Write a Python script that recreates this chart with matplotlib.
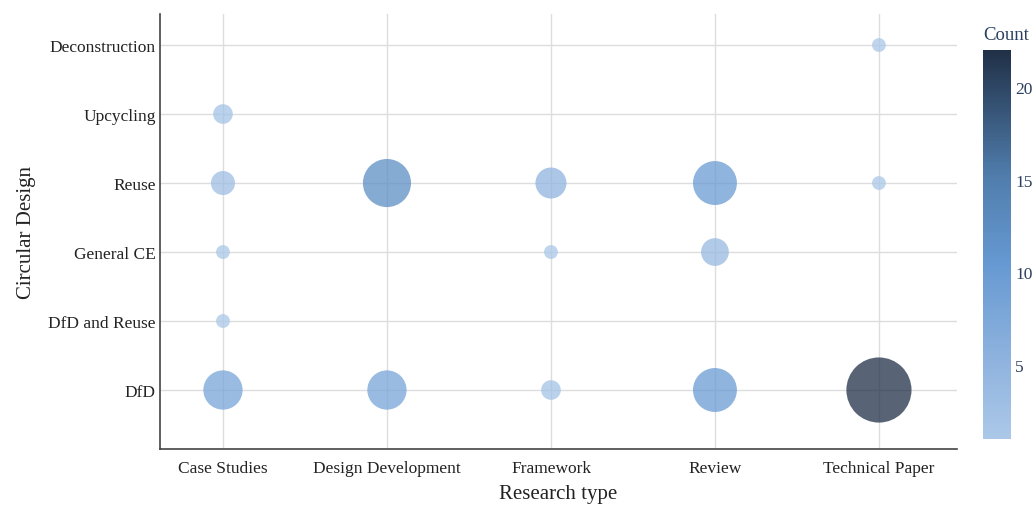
import numpy as np
import matplotlib.pyplot as plt
from matplotlib.colors import LinearSegmentedColormap, Normalize
from matplotlib.colorbar import ColorbarBase

plt.rcParams['font.family'] = ['Liberation Serif', 'DejaVu Serif']

# categories
research_types = ["Case Studies", "Design Development", "Framework", "Review", "Technical Paper"]
designs = ["DfD", "DfD and Reuse", "General CE", "Reuse", "Upcycling", "Deconstruction"]

# (research type, circular design, count)
rt = ["Case Studies", "Case Studies", "Case Studies", "Case Studies", "Case Studies",
      "Design Development", "Design Development",
      "Framework", "Framework", "Framework",
      "Review", "Review", "Review",
      "Technical Paper", "Technical Paper", "Technical Paper"]
cd = ["Upcycling", "Reuse", "General CE", "DfD and Reuse", "DfD",
      "Reuse", "DfD",
      "Reuse", "General CE", "DfD",
      "Reuse", "General CE", "DfD",
      "Deconstruction", "Reuse", "DfD"]
count = [2, 3, 1, 1, 8,
         12, 8,
         5, 1, 2,
         10, 4, 10,
         1, 1, 22]

cmap = LinearSegmentedColormap.from_list(
    "count_blues",
    [(0.0, "#abc8e8"), (0.2, "#8fb3de"), (0.45, "#6699d2"),
     (0.68, "#4f7cab"), (1.0, "#203047")])
norm = Normalize(vmin=1, vmax=22)

W, H = 1034, 506
fig = plt.figure(figsize=(W / 100, H / 100), dpi=100)
ax = fig.add_axes([160 / W, 1 - 450 / H, (957 - 160) / W, (450 - 15) / H])

xi = [research_types.index(r) for r in rt]
yi = [designs.index(c) for c in cd]
cnt = np.array(count)

ax.scatter(xi, yi, s=100 * cnt, c=cnt, cmap=cmap, norm=norm,
           alpha=0.75, linewidths=0, zorder=3)

ax.set_xlim(-0.384, 4.476)
ax.set_ylim(-0.855, 5.45)
ax.set_xticks(range(len(research_types)))
ax.set_xticklabels(research_types)
ax.set_yticks(range(len(designs)))
ax.set_yticklabels(designs)
ax.tick_params(length=0, labelsize=12.5, colors="#222222")
ax.tick_params(axis="x", pad=8)
ax.tick_params(axis="y", pad=3)
ax.grid(True, color="#dddddd", linewidth=1, zorder=0)
ax.set_axisbelow(True)
for side in ["top", "right"]:
    ax.spines[side].set_visible(False)
for side in ["left", "bottom"]:
    ax.spines[side].set_color("#444444")
    ax.spines[side].set_linewidth(1.2)

ax.set_xlabel("Research type", fontsize=15, color="#222222", labelpad=6)
ax.set_ylabel("Circular Design", fontsize=15, color="#222222", labelpad=9)

# colorbar
cax = fig.add_axes([983 / W, 1 - 440 / H, 28 / W, (440 - 51) / H])
cb = ColorbarBase(cax, cmap=cmap, norm=norm)
cb.outline.set_visible(False)
cb.set_ticks([5, 10, 15, 20])
cax.tick_params(length=0, labelsize=12.5, labelcolor="#2a3f5f", pad=3)
fig.text(983 / W, 1 - 36 / H, "Count", fontsize=13.5, color="#2a3f5f",
         ha="left", va="center")

fig.savefig("out.png", dpi=100)
